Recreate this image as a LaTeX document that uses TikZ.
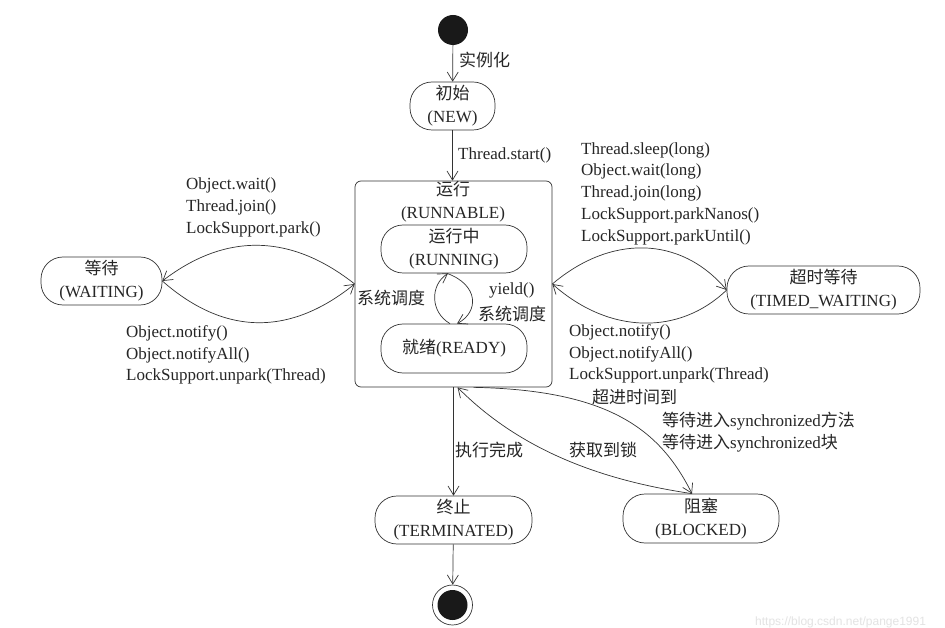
\documentclass[tikz,border=0pt]{standalone}
\usepackage{fontspec}
\setmainfont{Liberation Serif}
\newfontfamily\cjk{Noto Sans CJK SC}
\newfontfamily\wmfont{Liberation Sans}
\usetikzlibrary{arrows.meta}
\begin{document}
\begin{tikzpicture}[x=1pt,y=-1pt,
  every node/.style={font=\fontsize{17}{23}\selectfont, inner sep=0pt, text=black!85},
  st/.style={draw=black!80, rounded corners=22pt, align=center, line width=0.7pt},
  arr/.style={-{Straight Barb[length=9pt,width=11pt]}, line width=0.7pt, draw=black!80},
  lbl/.style={align=left, anchor=west, font=\fontsize{17}{21.75}\selectfont}]
\useasboundingbox (0,0) rectangle (945,628);
\fill[white] (0,0) rectangle (945,628);

% nodes
\node[circle, fill=black!90, minimum size=30pt] (init) at (453,30) {};
\node[st, minimum width=85pt, minimum height=48pt] (new) at (452.5,106) {{\cjk 初始}\\(NEW)};
\node[draw=black!80, rounded corners=6pt, minimum width=197pt, minimum height=206pt, line width=0.7pt] (runnable) at (453.5,284) {};
\node[align=center] (runlbl) at (453,202) {{\cjk 运行}\\(RUNNABLE)};
\node[st, minimum width=146pt, minimum height=48pt] (running) at (454,249) {{\cjk 运行中}\\(RUNNING)};
\node[st, minimum width=146pt, minimum height=49pt] (ready) at (454,348.5) {{\cjk 就绪}(READY)};
\node[st, minimum width=121pt, minimum height=48pt] (waiting) at (101.5,281) {{\cjk 等待}\\(WAITING)};
\node[st, minimum width=193pt, minimum height=48pt] (timed) at (823.5,290) {{\cjk 超时等待}\\(TIMED\_WAITING)};
\node[st, minimum width=157pt, minimum height=48pt] (term) at (453.5,520) {{\cjk 终止}\\(TERMINATED)};
\node[st, minimum width=156pt, minimum height=49pt] (blocked) at (701,518.5) {{\cjk 阻塞}\\(BLOCKED)};
\node[circle, draw=black!80, line width=0.7pt, minimum size=40pt] (final) at (452.5,605) {};
\node[circle, fill=black!90, minimum size=30pt] (finaldot) at (final.center) {};

% connectors
\draw[arr] (init) -- (new);
\draw[arr] (new.south) -- (new.south |- runnable.north);
\draw[arr] (runnable) -- (term);
\draw[arr] (term) -- (final);

\draw[arr] (runnable.west) .. controls (290,233) and (225,233) .. (waiting.east);
\draw[arr] (waiting.east) .. controls (225,336) and (290,336) .. (runnable.west);
\draw[arr] (runnable.east) .. controls (610,235) and (680,235) .. (timed.west);
\draw[arr] (timed.west) .. controls (680,335) and (610,335) .. (runnable.east);

\draw[arr] ([xshift=-4pt]ready.north) .. controls (430,312) and (430,285) .. ([xshift=-6pt]running.south);
\draw[arr] ([xshift=-7pt]running.south) .. controls (479,285) and (479,312) .. ([xshift=3pt]ready.north);

\draw[arr] ([xshift=20pt]runnable.south) .. controls (610,390) and (660,430) .. ([xshift=-9pt]blocked.north);
\draw[arr] ([xshift=-9pt]blocked.north) .. controls (600,480) and (520,450) .. ([xshift=4pt]runnable.south);

% labels
\node[anchor=west] (l1) at (459,60) {\cjk 实例化};
\node[anchor=west] (l2) at (458,155) {Thread.start()};
\node[lbl] (l3) at (186,207.5) {Object.wait()\\Thread.join()\\LockSupport.park()};
\node[lbl] (l4) at (126,355) {Object.notify()\\Object.notifyAll()\\LockSupport.unpark(Thread)};
\node[lbl] (l5) at (581,193.5) {Thread.sleep(long)\\Object.wait(long)\\Thread.join(long)\\LockSupport.parkNanos()\\LockSupport.parkUntil()};
\node[lbl] (l6) at (569,354) {Object.notify()\\Object.notifyAll()\\LockSupport.unpark(Thread)};
\node[anchor=west] (l7) at (357,298) {\cjk 系统调度};
\node[anchor=west] (l8) at (489,290) {yield()};
\node[anchor=west] (l9) at (478,314) {\cjk 系统调度};
\node[anchor=west] (l10) at (455,450) {\cjk 执行完成};
\node[anchor=west] (l11) at (569,450) {\cjk 获取到锁};
\node[anchor=west] (l12) at (592,397) {\cjk 超进时间到};
\node[lbl] (l13) at (662,432.5) {{\cjk 等待进入}synchronized{\cjk 方法}\\{\cjk 等待进入}synchronized{\cjk 块}};

\node[font=\wmfont\fontsize{12}{14}\selectfont, text=gray!22, anchor=west] (wm) at (755,622) {https://blog.csdn.net/pange1991};
\end{tikzpicture}
\end{document}
